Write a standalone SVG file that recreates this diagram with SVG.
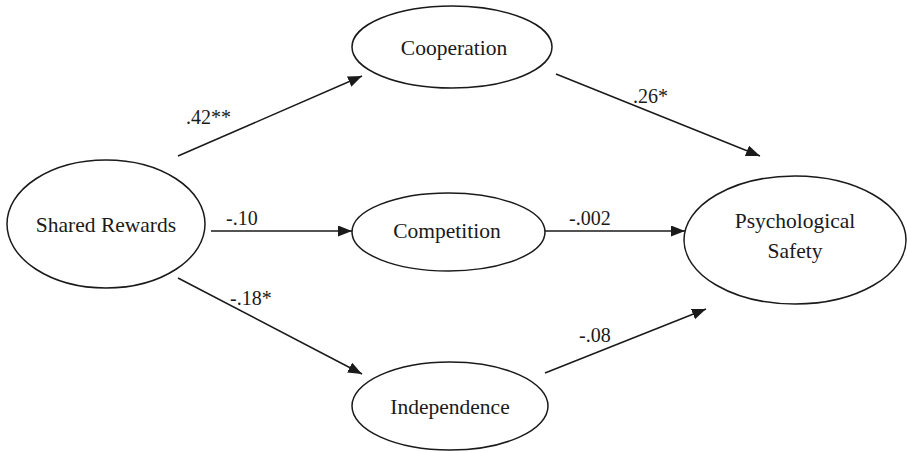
<svg xmlns="http://www.w3.org/2000/svg" width="907" height="452" viewBox="0 0 907 452">
<style>
.node ellipse{fill:#fff;stroke:#1a1a1a;stroke-width:1.5}
.node text{font-size:21.5px;fill:#1a1a1a;text-anchor:middle}
.edge line{stroke:#1a1a1a;stroke-width:1.5}
.lbl{font-size:20px;fill:#1a1a1a}
text{font-family:'Times New Roman',Times,'Nimbus Roman','Liberation Serif','DejaVu Serif',serif}
</style>
<defs>
<marker id="ah" markerUnits="userSpaceOnUse" markerWidth="15" markerHeight="12" refX="14" refY="5.5" orient="auto">
<path d="M0,0 L14,5.5 L0,11 z" fill="#1a1a1a"/>
</marker>
</defs>
<rect width="907" height="452" fill="#fff"/>
<g id="connectors" class="edge">
<line x1="178" y1="156" x2="362" y2="76" marker-end="url(#ah)"/>
<line x1="556" y1="74" x2="760" y2="156" marker-end="url(#ah)"/>
<line x1="211" y1="231" x2="352" y2="231" marker-end="url(#ah)"/>
<line x1="545" y1="231" x2="685" y2="231" marker-end="url(#ah)"/>
<line x1="178" y1="278" x2="362" y2="374" marker-end="url(#ah)"/>
<line x1="545" y1="373" x2="706" y2="309" marker-end="url(#ah)"/>
<text class="lbl" x="186" y="124">.42**</text>
<text class="lbl" x="633" y="103">.26*</text>
<text class="lbl" x="226" y="225">-.10</text>
<text class="lbl" x="569" y="225">-.002</text>
<text class="lbl" x="230" y="305">-.18*</text>
<text class="lbl" x="579" y="342">-.08</text>
</g>
<g id="shared-rewards" class="node">
<ellipse cx="106" cy="224" rx="99" ry="64"/>
<text x="106" y="232">Shared Rewards</text>
</g>
<g id="cooperation" class="node">
<ellipse cx="452" cy="47" rx="100" ry="41"/>
<text x="454" y="55">Cooperation</text>
</g>
<g id="competition" class="node">
<ellipse cx="448.5" cy="232" rx="96.5" ry="39"/>
<text x="447" y="238">Competition</text>
</g>
<g id="independence" class="node">
<ellipse cx="450" cy="406" rx="98" ry="44"/>
<text x="450" y="414">Independence</text>
</g>
<g id="psychological-safety" class="node">
<ellipse cx="795" cy="240" rx="111" ry="64"/>
<text x="795" y="228">Psychological</text>
<text x="795" y="258">Safety</text>
</g>
</svg>
